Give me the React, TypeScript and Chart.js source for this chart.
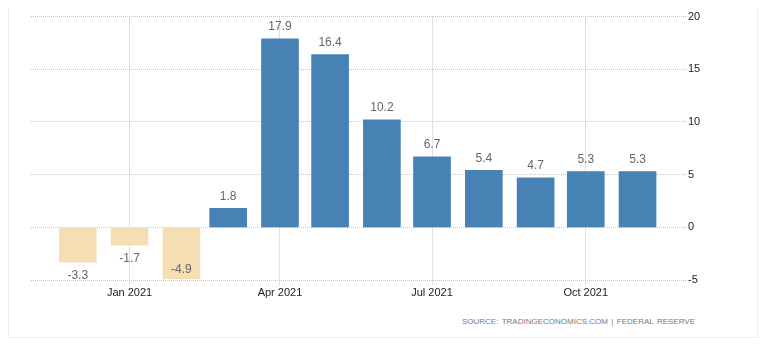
import React, { useEffect, useRef } from "react";
import { Chart, registerables } from "chart.js";

Chart.register(...registerables);

// Data
const months = [
  "2020-12", "2021-01", "2021-02", "2021-03", "2021-04", "2021-05",
  "2021-06", "2021-07", "2021-08", "2021-09", "2021-10", "2021-11",
];
const values = [-3.3, -1.7, -4.9, 1.8, 17.9, 16.4, 10.2, 6.7, 5.4, 4.7, 5.3, 5.3];
const tickMonths = ["2021-01", "2021-04", "2021-07", "2021-10"];
const tickLabels = ["Jan 2021", "Apr 2021", "Jul 2021", "Oct 2021"];
const yTicks = [-5, 0, 5, 10, 15, 20];
const sourceText = "SOURCE:  TRADINGECONOMICS.COM  |  FEDERAL  RESERVE";

const EPOCH = Date.UTC(2020, 11, 1);
function dayOf(m: string): number {
  const [y, mo] = m.split("-").map(Number);
  return (Date.UTC(y, mo - 1, 1) - EPOCH) / 86400000;
}

const POS = "#4682B4";
const NEG = "#F5DEB3";
const GRID = "#c4c4c4";
const FONT = "'Liberation Sans', Arial, sans-serif";

const labelPlugin = {
  id: "valueLabels",
  afterDatasetsDraw(chart: any) {
    const { ctx, chartArea } = chart;
    const meta = chart.getDatasetMeta(0);
    ctx.save();
    ctx.font = `12px ${FONT}`;
    ctx.fillStyle = "#666666";
    ctx.textAlign = "center";
    ctx.textBaseline = "middle";
    meta.data.forEach((bar: any, i: number) => {
      const v = values[i];
      const txt = v.toFixed(1);
      let y: number;
      if (v >= 0) {
        y = bar.y - 12;
      } else {
        y = bar.y + 13.5;
        if (y > chartArea.bottom - 2) y = bar.y - 9;
      }
      ctx.fillText(txt, bar.x, y);
    });
    ctx.restore();
  },
};

export default function App() {
  const ref = useRef<HTMLCanvasElement | null>(null);

  useEffect(() => {
    if (!ref.current) return;
    const tickDays = tickMonths.map(dayOf);
    const chart = new Chart(ref.current, {
      type: "bar",
      data: {
        datasets: [
          {
            data: months.map((m, i) => ({ x: dayOf(m), y: values[i] })),
            backgroundColor: values.map((v) => (v >= 0 ? POS : NEG)),
            barThickness: 37,
            borderWidth: 0,
          },
        ],
      },
      options: {
        animation: false,
        responsive: false,
        maintainAspectRatio: false,
        events: [],
        layout: { padding: { left: 22, top: 8, right: 0, bottom: 0 } },
        plugins: {
          legend: { display: false },
          tooltip: { enabled: false },
          title: { display: false },
        },
        scales: {
          x: {
            type: "linear",
            min: -28,
            max: 364,
            offset: false,
            afterBuildTicks: (scale: any) => {
              scale.ticks = tickDays.map((d) => ({ value: d }));
            },
            afterFit: (scale: any) => {
              scale.height = 28;
            },
            ticks: {
              autoSkip: false,
              maxRotation: 0,
              padding: 1,
              color: "#222222",
              font: { family: FONT, size: 11 },
              callback: (val: any) => {
                const idx = tickDays.indexOf(Number(val));
                return idx >= 0 ? tickLabels[idx] : "";
              },
            },
            grid: {
              color: GRID,
              lineWidth: 1,
              drawTicks: true,
              tickLength: 5,
              tickColor: GRID,
              tickBorderDash: [1, 1],
              offset: false,
            },
            border: { display: false, dash: [1, 1] },
          },
          y: {
            position: "right",
            min: -5,
            max: 20,
            afterBuildTicks: (scale: any) => {
              scale.ticks = yTicks.map((v) => ({ value: v }));
            },
            afterFit: (scale: any) => {
              scale.width = 71;
            },
            ticks: {
              padding: 2,
              color: "#222222",
              font: { family: FONT, size: 11 },
              callback: (val: any) => String(val),
            },
            grid: {
              color: GRID,
              lineWidth: 1,
              drawTicks: false,
            },
            border: { display: false, dash: [1, 1] },
          },
        },
      },
      plugins: [labelPlugin],
    });
    return () => chart.destroy();
  }, []);

  return (
    <div
      style={{
        position: "relative",
        marginTop: -8,
        width: 750,
        height: 338,
        boxSizing: "border-box",
        borderLeft: "1px solid #efefef",
        borderRight: "1px solid #efefef",
        borderBottom: "1px solid #efefef",
        background: "#ffffff",
      }}
    >
      <canvas
        ref={ref}
        width={748}
        height={300}
        style={{ position: "absolute", left: 0, top: 8, width: 748, height: 300 }}
      />
      <div
        style={{
          position: "absolute",
          right: 62,
          top: 317,
          fontFamily: FONT,
          fontSize: 8,
          lineHeight: "10px",
          wordSpacing: -0.5,
          color: "#7a7a7a",
          whiteSpace: "pre",
        }}
      >
        {sourceText}
      </div>
    </div>
  );
}
